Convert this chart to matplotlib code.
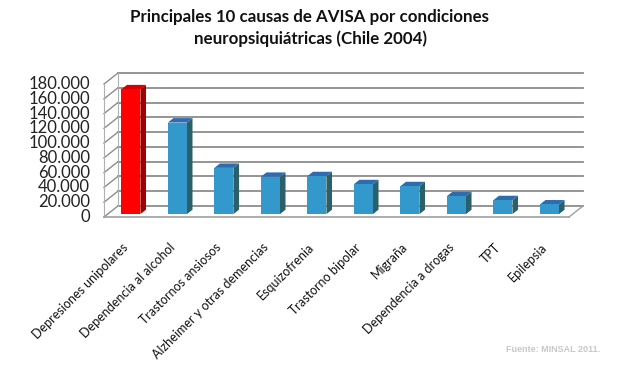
import numpy as np
import matplotlib
matplotlib.use("Agg")
import matplotlib.pyplot as plt
from matplotlib.patches import Polygon

# Datos (AVISA, Chile 2004)
categorias = ["Depresiones unipolares", "Dependencia al alcohol", "Trastornos ansiosos",
              "Alzheimer y otras demencias", "Esquizofrenia", "Trastorno bipolar",
              "Migraña", "Dependencia a drogas", "TPT", "Epilepsia"]
valores = [169000, 124000, 62600, 50500, 51400, 40500, 37800, 24300, 18900, 13100]
ticks_y = [0, 20000, 40000, 60000, 80000, 100000, 120000, 140000, 160000, 180000]
etiquetas_y = ["0", "20.000", "40.000", "60.000", "80.000", "100.000",
               "120.000", "140.000", "160.000", "180.000"]

titulo = "Principales 10 causas de AVISA por condiciones\nneuropsiquiátricas (Chile 2004)"
fuente = "Fuente: MINSAL 2011."

plt.rcParams['font.family'] = ['Lato', 'DejaVu Sans']

# profundidad del efecto 3D (en unidades de datos)
DX = 0.30
DY = 15000
Z0, Z1 = 0.26, 0.66
ANCHO = 0.41


def proy(x, v, z):
    return (x + z * DX, v + z * DY)


fig = plt.figure(figsize=(6.2, 3.66), dpi=100)
W, H = 620, 366
ax = fig.add_axes([104 / W, (H - 217) / H, (583 - 104) / W, (217 - 73) / H])
n = len(categorias)
ax.set_xlim(-0.5, n - 0.5 + DX)
ax.set_ylim(0, ticks_y[-1] + DY)
ax.axis("off")

gris = "#8c8c8c"
x0, x1 = -0.5, n - 0.5
# pared del fondo + pared lateral
for v in ticks_y:
    a, b = proy(x0, v, 1), proy(x1, v, 1)
    ax.plot([a[0], b[0]], [a[1], b[1]], color=gris, lw=1.3, zorder=1, clip_on=False)
    a, b = proy(x0, v, 0), proy(x0, v, 1)
    ax.plot([a[0], b[0]], [a[1], b[1]], color=gris, lw=1.0, zorder=1, clip_on=False)
for z in (0, 1):
    a, b = proy(x0, 0, z), proy(x0, ticks_y[-1], z)
    ax.plot([a[0], b[0]], [a[1], b[1]], color="#b0b0b0", lw=0.8, zorder=1, clip_on=False)
# piso
a, b = proy(x0, 0, 0), proy(x1, 0, 0)
ax.plot([a[0], b[0]], [a[1], b[1]], color="#a0a0a0", lw=1.2, zorder=1, clip_on=False)
a, b = proy(x1, 0, 0), proy(x1, 0, 1)
ax.plot([a[0], b[0]], [a[1], b[1]], color="#a0a0a0", lw=1.0, zorder=1, clip_on=False)

# barras
xs = np.arange(n)
frente = ["#ff0000"] + ["#3399cc"] * (n - 1)
lado = ["#a00000"] + ["#2c6068"] * (n - 1)
techo = ["#d80000"] + ["#2e6cb0"] * (n - 1)
ax.bar(xs + Z0 * DX, valores, width=ANCHO, bottom=Z0 * DY, color=frente, zorder=3)
for x, v, cl, ct in zip(xs, valores, lado, techo):
    xl, xr = x - ANCHO / 2, x + ANCHO / 2
    top = [proy(xl, v, Z0), proy(xr, v, Z0), proy(xr, v, Z1), proy(xl, v, Z1)]
    side = [proy(xr, 0, Z0), proy(xr, v, Z0), proy(xr, v, Z1), proy(xr, 0, Z1)]
    ax.add_patch(Polygon(side, closed=True, facecolor=cl, edgecolor="none", zorder=2))
    ax.add_patch(Polygon(top, closed=True, facecolor=ct, edgecolor="none", zorder=2))

# etiquetas eje y
for v, t in zip(ticks_y, etiquetas_y):
    ax.annotate(t, (x0, v), xytext=(-14, 0), textcoords="offset pixels",
                ha="right", va="center", fontsize=12, color="#222222")

# etiquetas de categorias
for x, c in zip(xs, categorias):
    ax.annotate(c, (x, 0), xytext=(-5, -24), textcoords="offset pixels",
                ha="right", va="top", rotation=45, rotation_mode="anchor",
                fontsize=9, color="#111111")

fig.text(0.5, 1 - 28 / H, titulo, ha="center", va="center", fontsize=12.2,
         fontweight="bold", linespacing=1.38, color="#111111")
fig.text(600 / W, 1 - 349 / H, fuente, ha="right", va="center", fontsize=6.5,
         family="Liberation Sans", fontweight="bold", color="#c8c8c8")

fig.savefig("out.png", dpi=100)
